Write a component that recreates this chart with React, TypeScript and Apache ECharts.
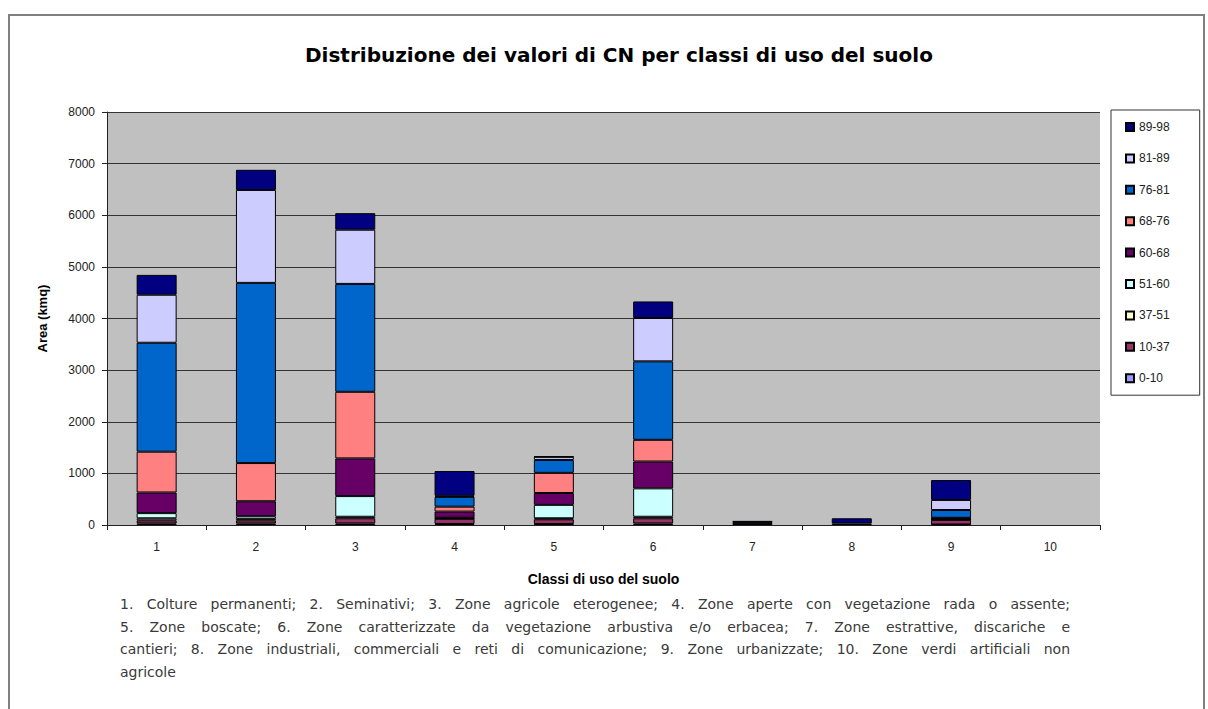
import React, { useEffect, useRef } from "react";
import * as echarts from "echarts";

const categories = ["1", "2", "3", "4", "5", "6", "7", "8", "9", "10"];
const classNames = ["0-10", "10-37", "37-51", "51-60", "60-68", "68-76", "76-81", "81-89", "89-98"];
const classColors = ["#9999FF", "#993366", "#FFFFCC", "#CCFFFF", "#660066", "#FF8080", "#0066CC", "#CCCCFF", "#000080"];

const c0_10 = [30, 30, 30, 20, 20, 30, 0, 0, 10, 0];
const c10_37 = [60, 60, 100, 100, 90, 100, 40, 30, 90, 0];
const c37_51 = [40, 30, 30, 10, 20, 30, 0, 0, 10, 0];
const c51_60 = [100, 50, 400, 10, 260, 550, 0, 0, 10, 0];
const c60_68 = [400, 290, 730, 120, 230, 520, 0, 0, 10, 0];
const c68_76 = [790, 740, 1290, 95, 390, 420, 0, 0, 10, 0];
const c76_81 = [2110, 3490, 2090, 190, 250, 1520, 0, 0, 150, 0];
const c81_89 = [930, 1800, 1050, 20, 60, 840, 0, 0, 195, 0];
const c89_98 = [385, 390, 320, 480, 10, 320, 40, 100, 385, 0];

const seriesValues = [c0_10, c10_37, c37_51, c51_60, c60_68, c68_76, c76_81, c81_89, c89_98];

const titleText = "Distribuzione dei valori di CN per classi di uso del suolo";
const yAxisName = "Area (kmq)";
const xAxisName = "Classi di uso del suolo";
const captionLines = [
  "1. Colture permanenti; 2. Seminativi; 3. Zone agricole eterogenee; 4. Zone aperte con vegetazione rada o assente;",
  "5. Zone boscate; 6. Zone caratterizzate da vegetazione arbustiva e/o erbacea; 7. Zone estrattive, discariche e",
  "cantieri; 8. Zone industriali, commerciali e reti di comunicazione; 9. Zone urbanizzate; 10. Zone verdi artificiali non",
  "agricole",
];

const FONT = "'Liberation Sans', Arial, sans-serif";
const CAPTION_FONT = "14px 'DejaVu Sans', sans-serif";

function measure(text: string, font: string): number {
  const ctx = document.createElement("canvas").getContext("2d");
  if (!ctx) return text.length * 7;
  ctx.font = font;
  return ctx.measureText(text).width;
}

function buildCaption(): any[] {
  const left = 120;
  const right = 1070;
  const out: any[] = [];
  captionLines.forEach((line, i) => {
    const y = 604 + i * 22.5;
    const justify = i < captionLines.length - 1;
    if (!justify) {
      out.push({
        type: "text",
        x: left,
        y,
        style: { text: line, font: CAPTION_FONT, fill: "#3a3a3a", verticalAlign: "middle" },
      });
      return;
    }
    const words = line.split(" ");
    const widths = words.map((w) => measure(w, CAPTION_FONT));
    const total = widths.reduce((a, b) => a + b, 0);
    const gap = Math.max(3, (right - left - total) / (words.length - 1));
    let x = left;
    words.forEach((w, k) => {
      out.push({
        type: "text",
        x,
        y,
        style: { text: w, font: CAPTION_FONT, fill: "#3a3a3a", verticalAlign: "middle" },
      });
      x += widths[k] + gap;
    });
  });
  return out;
}

export default function App() {
  const ref = useRef<HTMLDivElement>(null);
  useEffect(() => {
    if (!ref.current) return;
    const chart = echarts.init(ref.current, null, { renderer: "svg" });
    const series = seriesValues.map((vals, i) => ({
      name: classNames[i],
      type: "bar",
      stack: "total",
      barWidth: 40,
      data: vals.map((v) => (v === 0 ? null : v)),
      itemStyle: { color: classColors[i], borderColor: "#000", borderWidth: 1 },
    }));
    chart.setOption({
      animation: false,
      backgroundColor: "#fff",
      textStyle: { fontFamily: FONT },
      title: {
        text: titleText,
        left: 300,
        top: 40,
        textStyle: { fontSize: 20, fontWeight: "bold", color: "#000", fontFamily: "'DejaVu Sans', sans-serif" },
      },
      legend: {
        orient: "vertical",
        left: 1111,
        top: 110,
        data: classNames.slice().reverse(),
        icon: "rect",
        itemWidth: 8,
        itemHeight: 8,
        itemGap: 17.4,
        padding: [10, 30, 10, 14],
        borderColor: "#333",
        borderWidth: 1,
        backgroundColor: "#fff",
        textStyle: { fontSize: 12, lineHeight: 14, color: "#222", fontFamily: FONT },
      },
      grid: { left: 107, right: 108, top: 112, bottom: 184, show: true, backgroundColor: "#C0C0C0", borderWidth: 0 },
      xAxis: {
        type: "category",
        data: categories,
        name: xAxisName,
        nameLocation: "middle",
        nameGap: 47,
        nameTextStyle: { fontSize: 14, fontWeight: "bold", color: "#000", fontFamily: FONT },
        axisLine: { lineStyle: { color: "#222", width: 1 } },
        axisTick: { show: true, alignWithLabel: false, length: 5, lineStyle: { color: "#222" } },
        axisLabel: { fontSize: 12, color: "#222", margin: 16, fontFamily: FONT },
      },
      yAxis: {
        type: "value",
        min: 0,
        max: 8000,
        interval: 1000,
        name: yAxisName,
        nameLocation: "middle",
        nameGap: 58,
        nameRotate: 90,
        nameTextStyle: { fontSize: 13, fontWeight: "bold", color: "#000", fontFamily: FONT },
        axisLine: { show: true, lineStyle: { color: "#222", width: 1 } },
        axisTick: { show: true, length: 5, lineStyle: { color: "#222" } },
        axisLabel: { fontSize: 12, color: "#222", margin: 12, fontFamily: FONT, formatter: (v: number) => String(v) },
        splitLine: { show: true, lineStyle: { color: "#333", width: 1 } },
      },
      graphic: [
        {
          type: "rect",
          shape: { x: 9, y: 15, width: 1195, height: 700 },
          style: { fill: "none", stroke: "#808080", lineWidth: 2 },
          silent: true,
        },
        ...buildCaption(),
      ],
      series,
    });
    return () => chart.dispose();
  }, []);
  return (
    <div
      ref={ref}
      style={{ position: "fixed", left: 0, top: 0, width: 1208, height: 709 }}
    />
  );
}
